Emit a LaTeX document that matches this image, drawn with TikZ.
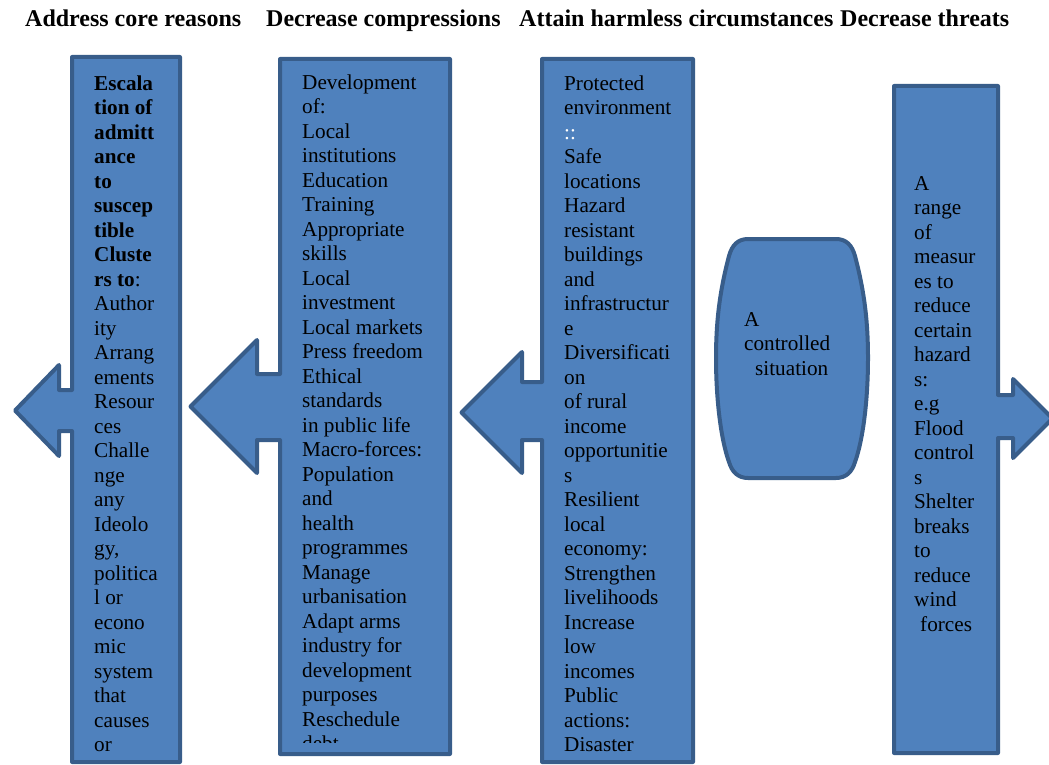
\documentclass[tikz,border=0pt]{standalone}
\usepackage{fontspec}
\setmainfont{Liberation Serif}
\definecolor{boxfill}{HTML}{4F81BD}
\definecolor{boxline}{HTML}{385D8A}
\tikzset{
  shp/.style={fill=boxfill, draw=boxline, line width=4pt, line join=round},
  body/.style={anchor=north west, inner sep=0pt, align=left,
    font=\fontsize{21.2}{24.5}\selectfont},
  headline/.style={anchor=base west, inner sep=0pt,
    font=\bfseries\fontsize{24}{28}\selectfont},
}
% fixes the height of the first line of each text block
\newcommand{\firstln}{\rule{0pt}{16pt}}
\begin{document}
\begin{tikzpicture}[x=1pt, y=-1pt]
\useasboundingbox (0,0) rectangle (1049,765);

% column headings
\node[headline] (h1) at (25,27)  {Address core reasons};
\node[headline] (h2) at (266,27) {Decrease compressions};
\node[headline] (h3) at (519,27) {Attain harmless circumstances};
\node[headline] (h4) at (840,27) {Decrease threats};

% left-pointing arrow: root causes
\path[shp] (72,57) -- (180,57) -- (180,762) -- (72,762) -- (72,431) -- (59,431)
  -- (59,456) -- (15,410.5) -- (59,365) -- (59,390) -- (72,390) -- cycle;
\node[body] (t1) at (94,74) {\firstln\textbf{Escala}\\ \textbf{tion of}\\ \textbf{admitt}\\
  \textbf{ance}\\ \textbf{to}\\ \textbf{suscep}\\ \textbf{tible}\\ \textbf{Cluste}\\
  \textbf{rs to}:\\ Author\\ ity\\ Arrang\\ ements\\ Resour\\ ces\\ Challe\\ nge\\ any\\
  Ideolo\\ gy,\\ politica\\ l or\\ econo\\ mic\\ system\\ that\\ causes\\ or};

% left-pointing arrow: pressures
\path[shp] (280,59) -- (450,59) -- (450,754) -- (280,754) -- (280,440) -- (257,440)
  -- (257,473) -- (190.5,406.5) -- (257,340) -- (257,374) -- (280,374) -- cycle;
\begin{scope}
\clip (280,59) rectangle (450,742);
\node[body] (t2) at (302,73) {\firstln Development\\ of:\\ Local\\ institutions\\ Education\\
  Training\\ Appropriate\\ skills\\ Local\\ investment\\ Local markets\\ Press freedom\\
  Ethical\\ standards\\ in public life\\ Macro-forces:\\ Population\\ and\\ health\\
  programmes\\ Manage\\ urbanisation\\ Adapt arms\\ industry for\\ development\\
  purposes\\ Reschedule\\ debt};
\end{scope}

% left-pointing arrow: safe conditions
\path[shp] (542,59) -- (693,59) -- (693,762) -- (542,762) -- (542,440) -- (522,440)
  -- (522,473) -- (461.5,412.5) -- (522,352) -- (522,382) -- (542,382) -- cycle;
\node[body] (t3) at (564,74) {\firstln Protected\\ environment\\ \textcolor{white}{::}\\ Safe\\
  locations\\ Hazard\\ resistant\\ buildings\\ and\\ infrastructur\\ e\\ Diversificati\\ on\\
  of rural\\ income\\ opportunitie\\ s\\ Resilient\\ local\\ economy:\\ Strengthen\\
  livelihoods\\ Increase\\ low\\ incomes\\ Public\\ actions:\\ Disaster};

% barrel shape in the middle
\path[shp] (748,239) -- (836,239)
  .. controls (846,239) and (852,245) .. (855,256)
  .. controls (864,290) and (868,320) .. (868,358)
  .. controls (868,400) and (863,440) .. (855,462)
  .. controls (852,472) and (846,478) .. (836,478)
  -- (748,478)
  .. controls (738,478) and (732,472) .. (729,462)
  .. controls (721,440) and (716,400) .. (716,358)
  .. controls (716,320) and (720,290) .. (729,256)
  .. controls (732,245) and (738,239) .. (748,239) -- cycle;
\node[body] (t5) at (744,310) {\firstln A\\ controlled\\ \hspace*{11pt}situation};

% right-pointing arrow: hazards
\path[shp] (894,86) -- (998,86) -- (998,395) -- (1013,395) -- (1013,379)
  -- (1052.5,418.5) -- (1013,458) -- (1013,438) -- (998,438) -- (998,753)
  -- (894,753) -- cycle;
\node[body] (t4) at (914,174) {\firstln A\\ range\\ of\\ measur\\ es to\\ reduce\\ certain\\
  hazard\\ s:\\ e.g\\ Flood\\ control\\ s\\ Shelter\\ breaks\\ to\\ reduce\\ wind\\
  \hspace*{6pt}forces};
\end{tikzpicture}
\end{document}
